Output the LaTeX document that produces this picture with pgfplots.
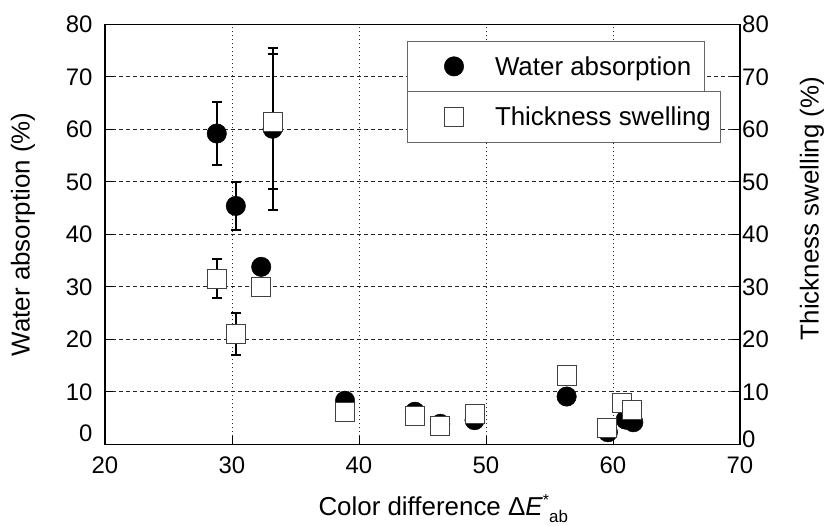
\documentclass[border=0pt]{standalone}
\usepackage{fontspec}
\setmainfont{Liberation Sans}
\usepackage{pgfplots}
\pgfplotsset{compat=1.18}
\begin{document}
\begin{tikzpicture}[x=1bp,y=1bp]
\path[use as bounding box] (0bp,0bp) rectangle (827bp,526bp);
\pgfplotsset{
  common/.style={
    at={(105bp,81.7bp)}, anchor=south west, scale only axis,
    width=635bp, height=420bp,
    xmin=20, xmax=70, ymin=0, ymax=80,
    xtick={20,30,...,70}, ytick={10,20,...,80},
    tick align=inside, major tick length=8bp,
    /pgf/number format/assume math mode=true,
    tick label style={font=\fontsize{24}{24}\selectfont},
    axis line style={line width=1.2bp},
    tick style={line width=1bp, black},
    legend cell align=left,
    legend image code/.code={\path[draw=none,fill=none] (-46.3bp,-25.35bp) rectangle (41bp,25.35bp); \draw[##1] plot coordinates {(0bp,0bp)};},
    legend style={anchor=north west, draw=black!60, line width=1bp, fill=white,
      inner sep=0pt, outer sep=0pt, font=\fontsize{26}{30}\selectfont,
      column sep=0pt, row sep=0pt, nodes={inner sep=0pt, draw=none}},
  }
}
\begin{axis}[common,
  xtick pos=bottom, ytick pos=left,
  extra y ticks={0}, extra y tick style={grid=none, yticklabel style={yshift=11bp}},
  grid=major,
  x grid style={dash pattern=on 1.5bp off 2.5bp, line width=0.9bp, black!85},
  y grid style={dash pattern=on 3.5bp off 3.5bp, line width=0.9bp, black!85},
  xticklabel style={yshift=-9bp},
  yticklabel style={xshift=-9bp},
  xlabel={Color difference Δ\textit{E}\raisebox{10bp}{\fontsize{16}{16}\selectfont *}\raisebox{-7bp}{\fontsize{17}{17}\selectfont ab}},
  every axis x label/.style={at={(rel axis cs:0.3307,-0.1707)}, anchor=base west, font=\fontsize{26}{30}\selectfont},
  ylabel={Water absorption (\%)},
  every axis y label/.style={at={(rel axis cs:-0.1291,0.5)}, rotate=90, anchor=center, font=\fontsize{26}{30}\selectfont},
  legend style={at={(0.4767,0.9602)}},
]
\addplot[black, only marks, mark=*, mark size=9.7bp, mark options={fill=black, draw=black, line width=0.5bp},
  error bars/.cd, y dir=both, y explicit,
  error bar style={line width=2bp, black},
  error mark options={rotate=90, mark size=5bp, line width=2bp, black}]
  table[x=x, y=y, y error=e] {
x y e
28.8 59.2 6.0
30.3 45.4 4.5
33.2 60.1 15.45
32.3 33.8 0
38.9 8.3 0
44.4 6.2 0
46.4 3.9 0
49.1 4.6 0
56.35 9.1 0
59.6 2.3 0
61.0 4.7 0
61.6 4.2 0
};
\addlegendentry{Water absorption\hspace*{13bp}}
\end{axis}
\begin{axis}[common,
  axis x line=none, axis y line*=right,
  extra y ticks={0}, extra y tick style={yticklabel style={yshift=5bp}},
  yticklabel style={xshift=-1.3bp},
  ylabel={Thickness swelling (\%)},
  every axis y label/.style={at={(rel axis cs:1.1134,0.5614)}, rotate=90, anchor=center, font=\fontsize{26}{30}\selectfont},
  legend style={at={(0.4767,0.8395)}},
]
\addplot[black, only marks, mark=square*, mark size=9.6bp, mark options={fill=white, draw=black!75, line width=1bp},
  error bars/.cd, y dir=both, y explicit,
  error bar style={line width=2bp, black},
  error mark options={rotate=90, mark size=5bp, line width=2bp, black}]
  table[x=x, y=y, y error=e] {
x y e
28.8 31.5 3.7
30.3 21.0 4.0
33.2 61.45 12.85
32.3 30.0 0
38.9 6.2 0
44.4 5.4 0
46.4 3.5 0
49.15 5.8 0
56.35 13.1 0
59.5 3.1 0
60.7 7.8 0
61.5 6.6 0
};
\addlegendentry{Thickness swelling\hspace*{10bp}}
\end{axis}
\end{tikzpicture}
\end{document}
